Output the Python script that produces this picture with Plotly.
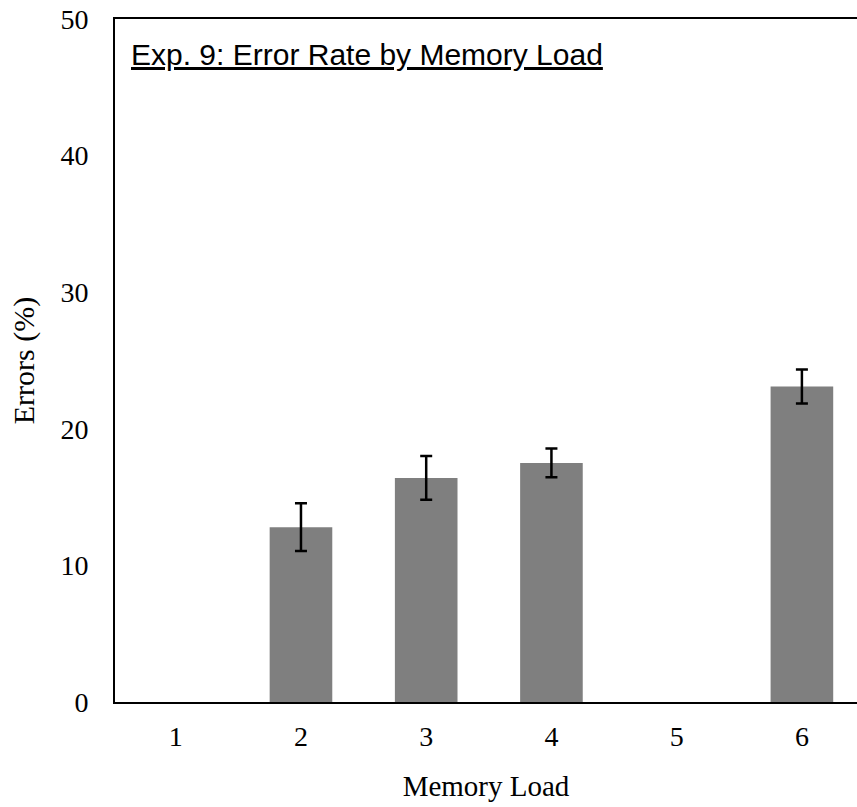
import plotly.graph_objects as go

# Data
memory_load = [1, 2, 3, 4, 5, 6]
tick_labels = ["1", "2", "3", "4", "5", "6"]
error_pct = [None, 12.8, 16.4, 17.5, None, 23.1]
error_sem = [None, 1.75, 1.6, 1.05, None, 1.25]
y_ticks = [0, 10, 20, 30, 40, 50]

serif = "Liberation Serif, Times New Roman, serif"
sans = "Liberation Sans, Arial, Helvetica, sans-serif"

fig = go.Figure()
fig.add_trace(go.Bar(
    x=memory_load,
    y=error_pct,
    width=0.5,
    marker=dict(color="#7F7F7F", line=dict(width=0)),
    error_y=dict(type="data", array=error_sem, visible=True,
                 color="black", thickness=2.5, width=6),
    showlegend=False,
))

fig.add_annotation(
    text="<u>Exp. 9: Error Rate by Memory Load</u>",
    xref="paper", yref="paper",
    x=0.019, y=0.948, xanchor="left", yanchor="middle",
    showarrow=False,
    font=dict(family=sans, size=30, color="black"),
)

fig.update_layout(
    width=857, height=807,
    margin=dict(l=115, r=0, t=19, b=105, pad=0, autoexpand=False),
    paper_bgcolor="white", plot_bgcolor="white",
    bargap=0.5,
    xaxis=dict(
        range=[0.515, 6.44],
        tickmode="array", tickvals=memory_load, ticktext=tick_labels,
        showline=True, linecolor="black", linewidth=2, mirror=True,
        ticks="", showgrid=False, zeroline=False, automargin=False,
        tickfont=dict(family=serif, size=28, color="black"),
        ticklabelstandoff=8, ticklabeloverflow="allow",
        title=dict(text="Memory Load", font=dict(family=serif, size=29, color="black"), standoff=25),
    ),
    yaxis=dict(
        range=[0, 50],
        tickmode="array", tickvals=y_ticks,
        showline=True, linecolor="black", linewidth=2, mirror=False,
        ticks="", showgrid=False, zeroline=False, automargin=False,
        tickfont=dict(family=serif, size=28, color="black"),
        ticklabelstandoff=19, ticklabeloverflow="allow",
        title=dict(text="Errors (%)", font=dict(family=serif, size=30, color="black"), standoff=17),
    ),
)

fig.write_html("out.html", config={"displayModeBar": False},
               post_script="document.body.style.margin='0';")
